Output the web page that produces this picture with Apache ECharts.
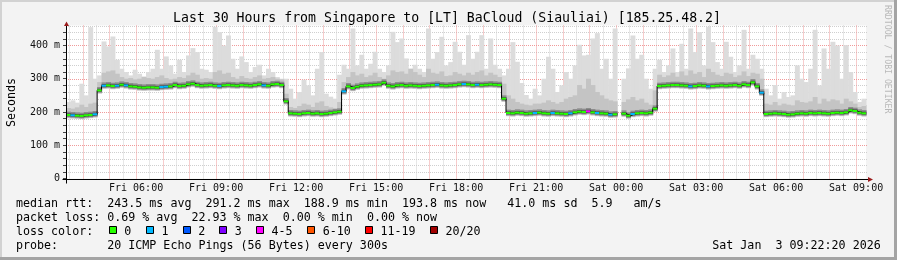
<!DOCTYPE html>
<html><head><meta charset="utf-8">
<script src="https://cdn.jsdelivr.net/npm/echarts@6/dist/echarts.min.js"></script>
<style>html,body{margin:0;padding:0;background:#f3f3f3}#c{width:897px;height:260px}</style>
</head><body><div id="c"></div>
<script>
const title = 'Last 30 Hours from Singapore to [LT] BaCloud (Siauliai) [185.25.48.2]';
const startHour = 3 + 22/60 + 20/3600;   // Fri 03:22:20
const endHour = startHour + 30;            // Sat 09:22:20
const stepHours = 10/60;

const median = [
191,190,189,188,190,191,193,265,279,280,278,279,282,280,277,276,274,273,274,274,
273,275,276,277,281,278,279,283,285,281,279,280,281,279,278,280,281,280,279,281,
280,279,281,283,280,279,283,284,281,232,196,195,194,196,197,195,196,194,195,197,
199,201,262,277,272,276,279,280,281,282,283,288,279,277,280,281,279,280,279,278,
279,280,281,282,280,279,280,281,283,284,283,281,282,281,282,283,282,281,240,197,
196,198,197,195,196,197,198,196,195,197,196,195,194,196,199,201,200,202,199,197,
196,195,192,193,null,195,189,194,196,197,196,198,210,278,279,280,281,281,280,279,
277,278,280,279,277,278,279,280,279,280,281,279,283,281,289,277,258,194,195,196,
195,194,192,193,195,196,195,197,196,197,196,195,197,198,197,199,205,203,198,196];

const smokeMid = [
212,210,214,222,215,225,228,290,318,322,325,315,305,300,302,298,300,305,302,300,
305,310,302,298,300,305,302,310,318,312,300,302,300,320,325,315,318,305,300,308,
302,300,305,310,300,302,305,300,298,255,215,212,218,225,222,215,228,232,218,214,
212,230,290,305,320,310,315,305,310,318,305,300,310,325,320,322,315,330,320,312,
305,330,318,315,322,308,310,320,315,310,318,312,320,325,310,318,312,305,285,250,
240,230,225,222,220,225,225,228,235,230,225,230,240,245,250,281,270,300,281,260,
250,240,235,232,null,230,238,245,235,240,228,222,265,312,305,310,318,306,322,310,
325,315,320,305,330,320,312,308,318,315,305,310,322,308,318,315,300,225,222,230,
220,225,222,220,235,230,228,232,245,225,240,232,238,235,225,240,232,225,215,218];

const smokeMax = [
230,235,228,285,250,455,300,310,412,397,427,357,330,320,310,327,315,307,320,330,
387,330,367,340,315,357,320,370,392,380,330,327,320,456,440,400,430,360,330,367,
350,320,335,342,310,330,320,305,300,300,270,240,260,297,280,250,330,380,255,246,
240,312,342,330,451,340,372,330,345,381,330,320,340,441,410,421,361,330,342,330,
320,451,360,380,426,340,350,411,381,342,431,360,381,431,330,421,342,330,310,330,
410,351,287,251,240,270,250,300,366,330,260,280,320,300,340,402,370,372,421,437,
330,360,300,451,null,300,331,430,360,372,300,270,330,357,320,340,391,320,405,330,
451,380,440,340,456,410,350,330,411,366,320,340,447,330,372,360,330,270,250,281,
240,260,245,250,340,300,290,330,447,280,391,330,411,400,300,401,320,260,230,240];

const loss = [
0,1,0,0,0,0,1,0,1,0,0,1,0,1,0,0,0,0,0,0,
0,1,1,0,0,0,0,0,0,0,0,0,0,0,1,0,0,0,0,0,
0,0,0,0,1,0,0,0,0,0,0,0,0,0,0,0,0,0,0,0,
0,0,1,0,0,0,0,0,0,0,0,0,0,0,0,0,0,0,0,0,
0,0,0,1,0,0,0,0,0,1,0,0,1,0,0,0,0,0,0,0,
0,0,0,0,0,1,0,0,0,1,0,0,0,1,0,0,0,4,0,1,
0,0,1,0,0,0,0,1,0,0,0,0,0,0,0,0,0,0,0,0,
1,0,0,0,1,0,0,0,0,0,0,0,0,0,0,0,1,0,0,0,
0,0,0,0,0,0,0,0,0,0,0,0,0,0,0,0,0,0,0,0];

const yMajorTicks = [0,100,200,300,400];
const yTickLabels = ['0','100 m','200 m','300 m','400 m'];
const xLabelHours = [6,9,12,15,18,21,24,27,30,33];
const xTickLabels = ['Fri 06:00','Fri 09:00','Fri 12:00','Fri 15:00','Fri 18:00','Fri 21:00','Sat 00:00','Sat 03:00','Sat 06:00','Sat 09:00'];
const lossClasses = ['0','1','2','3','4-5','6-10','11-19','20/20'];
const lossColors = ['#26ff00','#00b8ff','#0059ff','#7e00ff','#ff00ff','#ff5500','#ff0000','#a10000'];
const statLines = [
  'median rtt:  243.5 ms avg  291.2 ms max  188.9 ms min  193.8 ms now   41.0 ms sd  5.9   am/s',
  'packet loss: 0.69 % avg  22.93 % max  0.00 % min  0.00 % now'
];
const probeLine = 'probe:       20 ICMP Echo Pings (56 Bytes) every 300s';
const dateText = 'Sat Jan  3 09:22:20 2026';
const sideText = 'RRDTOOL / TOBI OETIKER';

const MONO = "'DejaVu Sans Mono', monospace";
const YMAX = 460;

function lossClass(n){ if(n<=3) return n; if(n<=5) return 4; if(n<=10) return 5; if(n<=19) return 6; return 7; }

const minorX=[], majorX=[], minorY=[], majorY=[];
for(let h=Math.ceil(startHour*2)/2; h<=endHour; h+=0.5){ (Math.abs(h-Math.round(h))<1e-9 ? majorX : minorX).push(h); }
for(let v=20; v<=YMAX; v+=20){ (v%100===0 ? majorY : minorY).push(v); }

function gridSeries(values, horizontal, color, z){
  return {type:'custom', z, silent:true, animation:false,
    data: values.map(v => horizontal ? [startHour, v] : [v, 0]),
    encode:{x:0,y:1},
    renderItem(params, api){
      const cs = params.coordSys;
      if(horizontal){
        const y = Math.round(api.coord([startHour, api.value(1)])[1]) + 0.5;
        return {type:'line', shape:{x1:cs.x, y1:y, x2:cs.x+cs.width+2, y2:y}, style:{stroke:color, lineWidth:1, lineDash:[1,1]}};
      }
      const x = Math.round(api.coord([api.value(0), 0])[0]) + 0.5;
      return {type:'line', shape:{x1:x, y1:cs.y, x2:x, y2:cs.y+cs.height}, style:{stroke:color, lineWidth:1, lineDash:[1,1]}};
    }};
}

function bandSeries(lows, highs, color, z){
  const data=[];
  for(let i=0;i<median.length;i++){
    if(median[i]==null || highs[i]==null) continue;
    data.push([startHour+i*stepHours, lows[i], highs[i]]);
  }
  return {type:'custom', z, silent:true, animation:false, data, encode:{x:0,y:2},
    renderItem(params, api){
      const x0=api.value(0);
      const a=api.coord([x0, api.value(2)]);
      const b=api.coord([x0+stepHours, api.value(1)]);
      return {type:'rect', shape:{x:a[0], y:a[1], width:b[0]-a[0]+0.5, height:b[1]-a[1]}, style:{fill:color}};
    }};
}

const lowLight = median.map(m => m==null?null:m-10);
const lowMid = median.map(m => m==null?null:m-9);
const lowDark = median.map(m => m==null?null:m-7);
const highDark = median.map(m => m==null?null:m+10);
const lowCore = median.map(m => m==null?null:m-4);
const highCore = median.map(m => m==null?null:m+5);

const blackLine=[];
const medSeg=[];
for(let i=0;i<median.length;i++){
  const t=startHour+i*stepHours;
  if(median[i]==null){ blackLine.push([t,'-']); continue; }
  blackLine.push([t, median[i]]); blackLine.push([t+stepHours, median[i]]);
  medSeg.push([t, median[i], lossClass(loss[i])]);
}

const chart = echarts.init(document.getElementById('c'), null, {renderer:'canvas'});
chart.setOption({
  animation:false,
  backgroundColor:'#f3f3f3',
  grid:{left:66, right:31, top:25.5, bottom:81.5, show:true, backgroundColor:'#ffffff', borderWidth:0, outerBoundsMode:'none', containLabel:false},
  xAxis:{type:'value', min:startHour, max:endHour,
    axisLine:{show:false}, axisTick:{show:false}, splitLine:{show:false},
    axisLabel:{customValues:xLabelHours, fontFamily:MONO, fontSize:10, color:'#111', margin:5,
      formatter:v => { const k=xLabelHours.indexOf(Math.round(v)); return k<0?'':xTickLabels[k]; }}},
  yAxis:{type:'value', min:0, max:YMAX, interval:20,
    axisLine:{show:false}, axisTick:{show:true, length:3, lineStyle:{color:'#444'}}, splitLine:{show:false},
    axisLabel:{fontFamily:MONO, fontSize:10, color:'#111', margin:6, showMaxLabel:false,
      formatter:v => { const k=yMajorTicks.indexOf(v); return k<0?'':yTickLabels[k]; }}},
  series:[
    gridSeries(minorX,false,'#cfcfcf',1),
    gridSeries(minorY,true,'#cfcfcf',1),
    gridSeries(majorX,false,'#f09a9a',1),
    gridSeries(majorY,true,'#f09a9a',1),
    bandSeries(lowLight, smokeMax, '#dcdcdc', 2),
    bandSeries(lowMid, smokeMid, '#c4c4c4', 3),
    bandSeries(lowDark, highDark, '#8c8c8c', 4),
    bandSeries(lowCore, highCore, '#505050', 4),
    {type:'line', z:5, data:blackLine, showSymbol:false, silent:true, connectNulls:false,
      lineStyle:{color:'#000', width:1}, animation:false},
    {type:'custom', z:6, silent:true, animation:false, data:medSeg, encode:{x:0,y:1},
      renderItem(params, api){
        const t=api.value(0), m=api.value(1), c=api.value(2);
        const a=api.coord([t,m]), b=api.coord([t+stepHours,m]);
        return {type:'line', shape:{x1:a[0], y1:a[1], x2:b[0], y2:b[1]}, style:{stroke:lossColors[c], lineWidth:2}};
      }}
  ]
});

const [xl, yt] = chart.convertToPixel({gridIndex:0},[startHour, YMAX]);
const [xr, yb] = chart.convertToPixel({gridIndex:0},[endHour, 0]);
const ax = Math.round(xl)+0.5, ay = Math.round(yb)+0.5;
const g = [];
g.push({type:'rect', shape:{x:0,y:0,width:897,height:2}, style:{fill:'#d2d2d2'}, z:0});
g.push({type:'rect', shape:{x:0,y:0,width:2,height:260}, style:{fill:'#d2d2d2'}, z:0});
g.push({type:'rect', shape:{x:0,y:257,width:897,height:3}, style:{fill:'#a4a4a4'}, z:0});
g.push({type:'rect', shape:{x:894,y:0,width:3,height:260}, style:{fill:'#a4a4a4'}, z:0});
g.push({type:'line', shape:{x1:ax, y1:ay+4, x2:ax, y2:yt}, style:{stroke:'#000', lineWidth:1}, z:50});
g.push({type:'line', shape:{x1:ax-4, y1:ay, x2:xr+2, y2:ay}, style:{stroke:'#000', lineWidth:1}, z:50});
g.push({type:'polygon', shape:{points:[[ax-2.5,yt+0.5],[ax+2.5,yt+0.5],[ax,yt-4]]}, style:{fill:'#9b1c1c'}, z:51});
g.push({type:'polygon', shape:{points:[[xr+2,ay-2.5],[xr+2,ay+2.5],[xr+7,ay]]}, style:{fill:'#9b1c1c'}, z:51});
g.push({type:'text', x:447, y:19, z:50, style:{text:title, font:"13.2px "+MONO, fill:'#000', textAlign:'center', textVerticalAlign:'middle'}});
g.push({type:'text', x:11.5, y:102.5, rotation:Math.PI/2, z:50, style:{text:'Seconds', font:"11.67px "+MONO, fill:'#000', textAlign:'center', textVerticalAlign:'middle'}});
g.push({type:'text', x:887.5, y:5, rotation:-Math.PI/2, z:50, style:{text:sideText, font:"8.2px "+MONO, fill:'#b8b8b8', textAlign:'left', textVerticalAlign:'middle'}});
const legendY=[204,218,232,246];
statLines.forEach((s,k)=>g.push({type:'text', x:16, y:legendY[k], z:50, style:{text:s, font:"11.67px "+MONO, fill:'#000', textAlign:'left', textVerticalAlign:'middle'}}));
g.push({type:'text', x:16, y:legendY[2], z:50, style:{text:'loss color:', font:"11.67px "+MONO, fill:'#000', textAlign:'left', textVerticalAlign:'middle'}});
const boxX=[108.7,146,182.7,219.3,256,307.3,365,430];
lossClasses.forEach((lab,k)=>{
  const bx=Math.round(boxX[k])+0.5;
  g.push({type:'rect', shape:{x:bx, y:226.5, width:7, height:7}, style:{fill:lossColors[k], stroke:'#000', lineWidth:1}, z:50});
  g.push({type:'text', x:boxX[k]+15.5, y:legendY[2], z:50, style:{text:lab, font:"11.67px "+MONO, fill:'#000', textAlign:'left', textVerticalAlign:'middle'}});
});
g.push({type:'text', x:16, y:legendY[3], z:50, style:{text:probeLine, font:"11.67px "+MONO, fill:'#000', textAlign:'left', textVerticalAlign:'middle'}});
g.push({type:'text', x:880.7, y:legendY[3], z:50, style:{text:dateText, font:"11.67px "+MONO, fill:'#000', textAlign:'right', textVerticalAlign:'middle'}});
chart.setOption({graphic:g});
</script></body></html>
